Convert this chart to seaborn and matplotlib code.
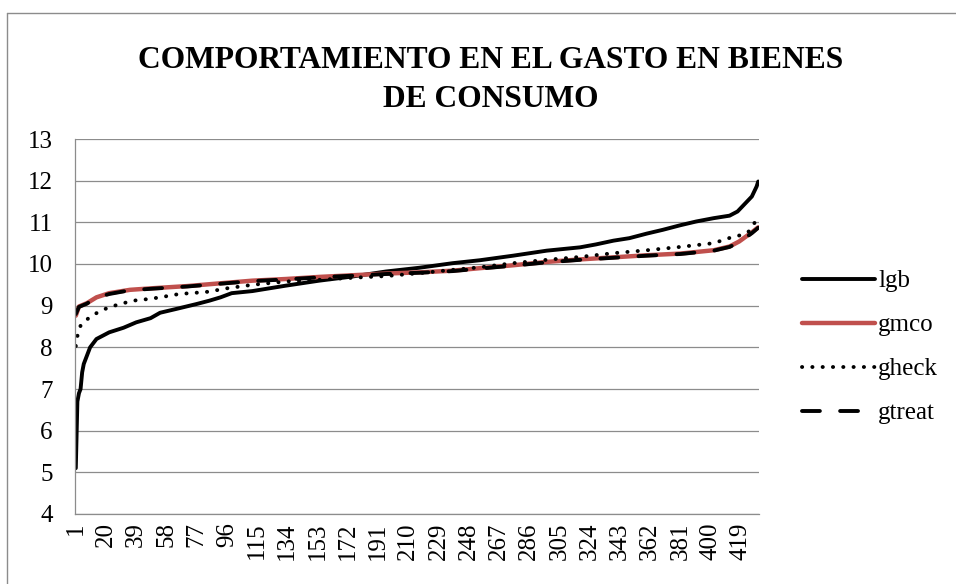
import pandas as pd
import seaborn as sns
from matplotlib import pyplot as plt
from matplotlib.lines import Line2D

lgb_x = [1, 2, 3, 4, 5, 6, 8, 10, 14, 22, 31, 39, 48, 54, 64, 77, 85, 92, 99, 112,
         133, 154, 175, 196, 217, 238, 255, 276, 297, 318, 328, 339, 349, 360, 370,
         381, 391, 402, 412, 417, 422, 426, 429, 430]
lgb_y = [5.1, 6.7, 6.9, 7.0, 7.4, 7.6, 7.8, 8.0, 8.2, 8.36, 8.47, 8.6, 8.7, 8.83, 8.92,
         9.04, 9.12, 9.2, 9.3, 9.35, 9.48, 9.6, 9.7, 9.82, 9.91, 10.02, 10.09, 10.2,
         10.32, 10.4, 10.47, 10.56, 10.62, 10.73, 10.82, 10.93, 11.02, 11.1, 11.16,
         11.26, 11.46, 11.62, 11.86, 11.98]

gmco_x = [1, 3, 8, 14, 22, 35, 50, 71, 96, 112, 133, 154, 175, 196, 217, 238, 255,
          276, 297, 318, 339, 360, 381, 402, 412, 418, 422, 426, 430]
gmco_y = [8.76, 8.98, 9.06, 9.2, 9.3, 9.38, 9.42, 9.47, 9.55, 9.6, 9.64, 9.69, 9.73,
          9.77, 9.8, 9.84, 9.9, 9.97, 10.05, 10.11, 10.16, 10.21, 10.25, 10.33, 10.42,
          10.54, 10.65, 10.76, 10.88]

gheck_x = [1, 2, 4, 9, 14, 20, 27, 33, 39, 47, 54, 60, 66, 73, 80, 86, 93, 112, 133,
           154, 175, 196, 217, 238, 255, 276, 297, 318, 339, 360, 381, 402, 414, 420,
           424, 429]
gheck_y = [8.03, 8.27, 8.52, 8.7, 8.82, 8.93, 9.02, 9.08, 9.13, 9.16, 9.2, 9.24, 9.28,
           9.3, 9.32, 9.34, 9.4, 9.5, 9.58, 9.62, 9.67, 9.71, 9.78, 9.86, 9.92, 10.02,
           10.1, 10.17, 10.26, 10.33, 10.41, 10.5, 10.65, 10.7, 10.78, 11.06]

gtreat_x = [1, 3, 8, 14, 22, 35, 50, 71, 96, 112, 133, 154, 175, 196, 217, 238, 255,
            276, 297, 318, 339, 360, 381, 402, 412, 418, 422, 426, 430]
gtreat_y = [8.8, 8.97, 9.05, 9.19, 9.28, 9.37, 9.41, 9.46, 9.54, 9.59, 9.63, 9.68,
            9.72, 9.76, 9.79, 9.83, 9.89, 9.96, 10.04, 10.1, 10.15, 10.2, 10.24, 10.32,
            10.41, 10.52, 10.63, 10.74, 10.87]

n_obs = 430
tick_step = 19
title = "COMPORTAMIENTO EN EL GASTO EN BIENES\nDE CONSUMO"

sns.set_style("white")
plt.rcParams['font.family'] = ['Liberation Serif', 'DejaVu Serif']
plt.rcParams['text.color'] = "black"

fig = plt.figure(figsize=(9.56, 5.84), dpi=100)
ax = fig.add_axes([75 / 956, 1 - 514 / 584, (759 - 75) / 956, (514 - 139) / 584])

grid_c = "#8c8c8c"
for v in range(4, 14):
    ax.axhline(v, color=grid_c, lw=0.9, zorder=0)

sns.lineplot(x=lgb_x, y=lgb_y, ax=ax, color="black", lw=2.8, label="lgb")
sns.lineplot(x=gmco_x, y=gmco_y, ax=ax, color="#c0504d", lw=3.2, label="gmco")
sns.lineplot(x=gheck_x, y=gheck_y, ax=ax, color="black", lw=2.8, label="gheck")
sns.lineplot(x=gtreat_x, y=gtreat_y, ax=ax, color="black", lw=2.8, label="gtreat")

lines = ax.get_lines()[-4:]
lines[0].set_solid_capstyle("round")
lines[1].set_solid_capstyle("round")
lines[2].set_linestyle((0, (0.05, 2.6)))
lines[2].set_dash_capstyle("round")
lines[3].set_linestyle((0, (4.6, 5.2)))
lines[3].set_dash_capstyle("round")

ax.set_xlim(0.5, n_obs + 0.5)
ax.set_ylim(4, 13)
ax.set_yticks(range(4, 14))
ax.set_xticks(range(1, n_obs + 1, tick_step))
ax.set_xticklabels([str(t) for t in range(1, n_obs + 1, tick_step)], rotation=90)
ax.tick_params(axis='both', length=0, labelsize=18, colors="black")
ax.tick_params(axis='y', pad=16)
ax.tick_params(axis='x', pad=6)
ax.set_xlabel("")
ax.set_ylabel("")

for side in ["top", "right"]:
    ax.spines[side].set_visible(False)
for side in ["left", "bottom"]:
    ax.spines[side].set_color(grid_c)
    ax.spines[side].set_linewidth(0.9)

leg = ax.legend(loc="center left", bbox_to_anchor=(792 / 956, 1 - 347 / 584),
                bbox_transform=fig.transFigure, frameon=False, fontsize=18,
                handlelength=2.9, handletextpad=0.15, labelspacing=0.86,
                borderaxespad=0)
for t in leg.get_texts():
    t.set_color("black")

fig.text(491 / 956, 1 - 80 / 584, title, ha="center", va="center", color="black",
         fontsize=22.7, fontweight="bold", linespacing=1.45)

# outer chart border
fig.add_artist(Line2D([7 / 956, 7 / 956], [0, 1 - 13 / 584], color=grid_c, lw=1,
                      transform=fig.transFigure))
fig.add_artist(Line2D([7 / 956, 1], [1 - 13 / 584, 1 - 13 / 584], color=grid_c, lw=1,
                      transform=fig.transFigure))

plt.savefig("out.png", dpi=100)
